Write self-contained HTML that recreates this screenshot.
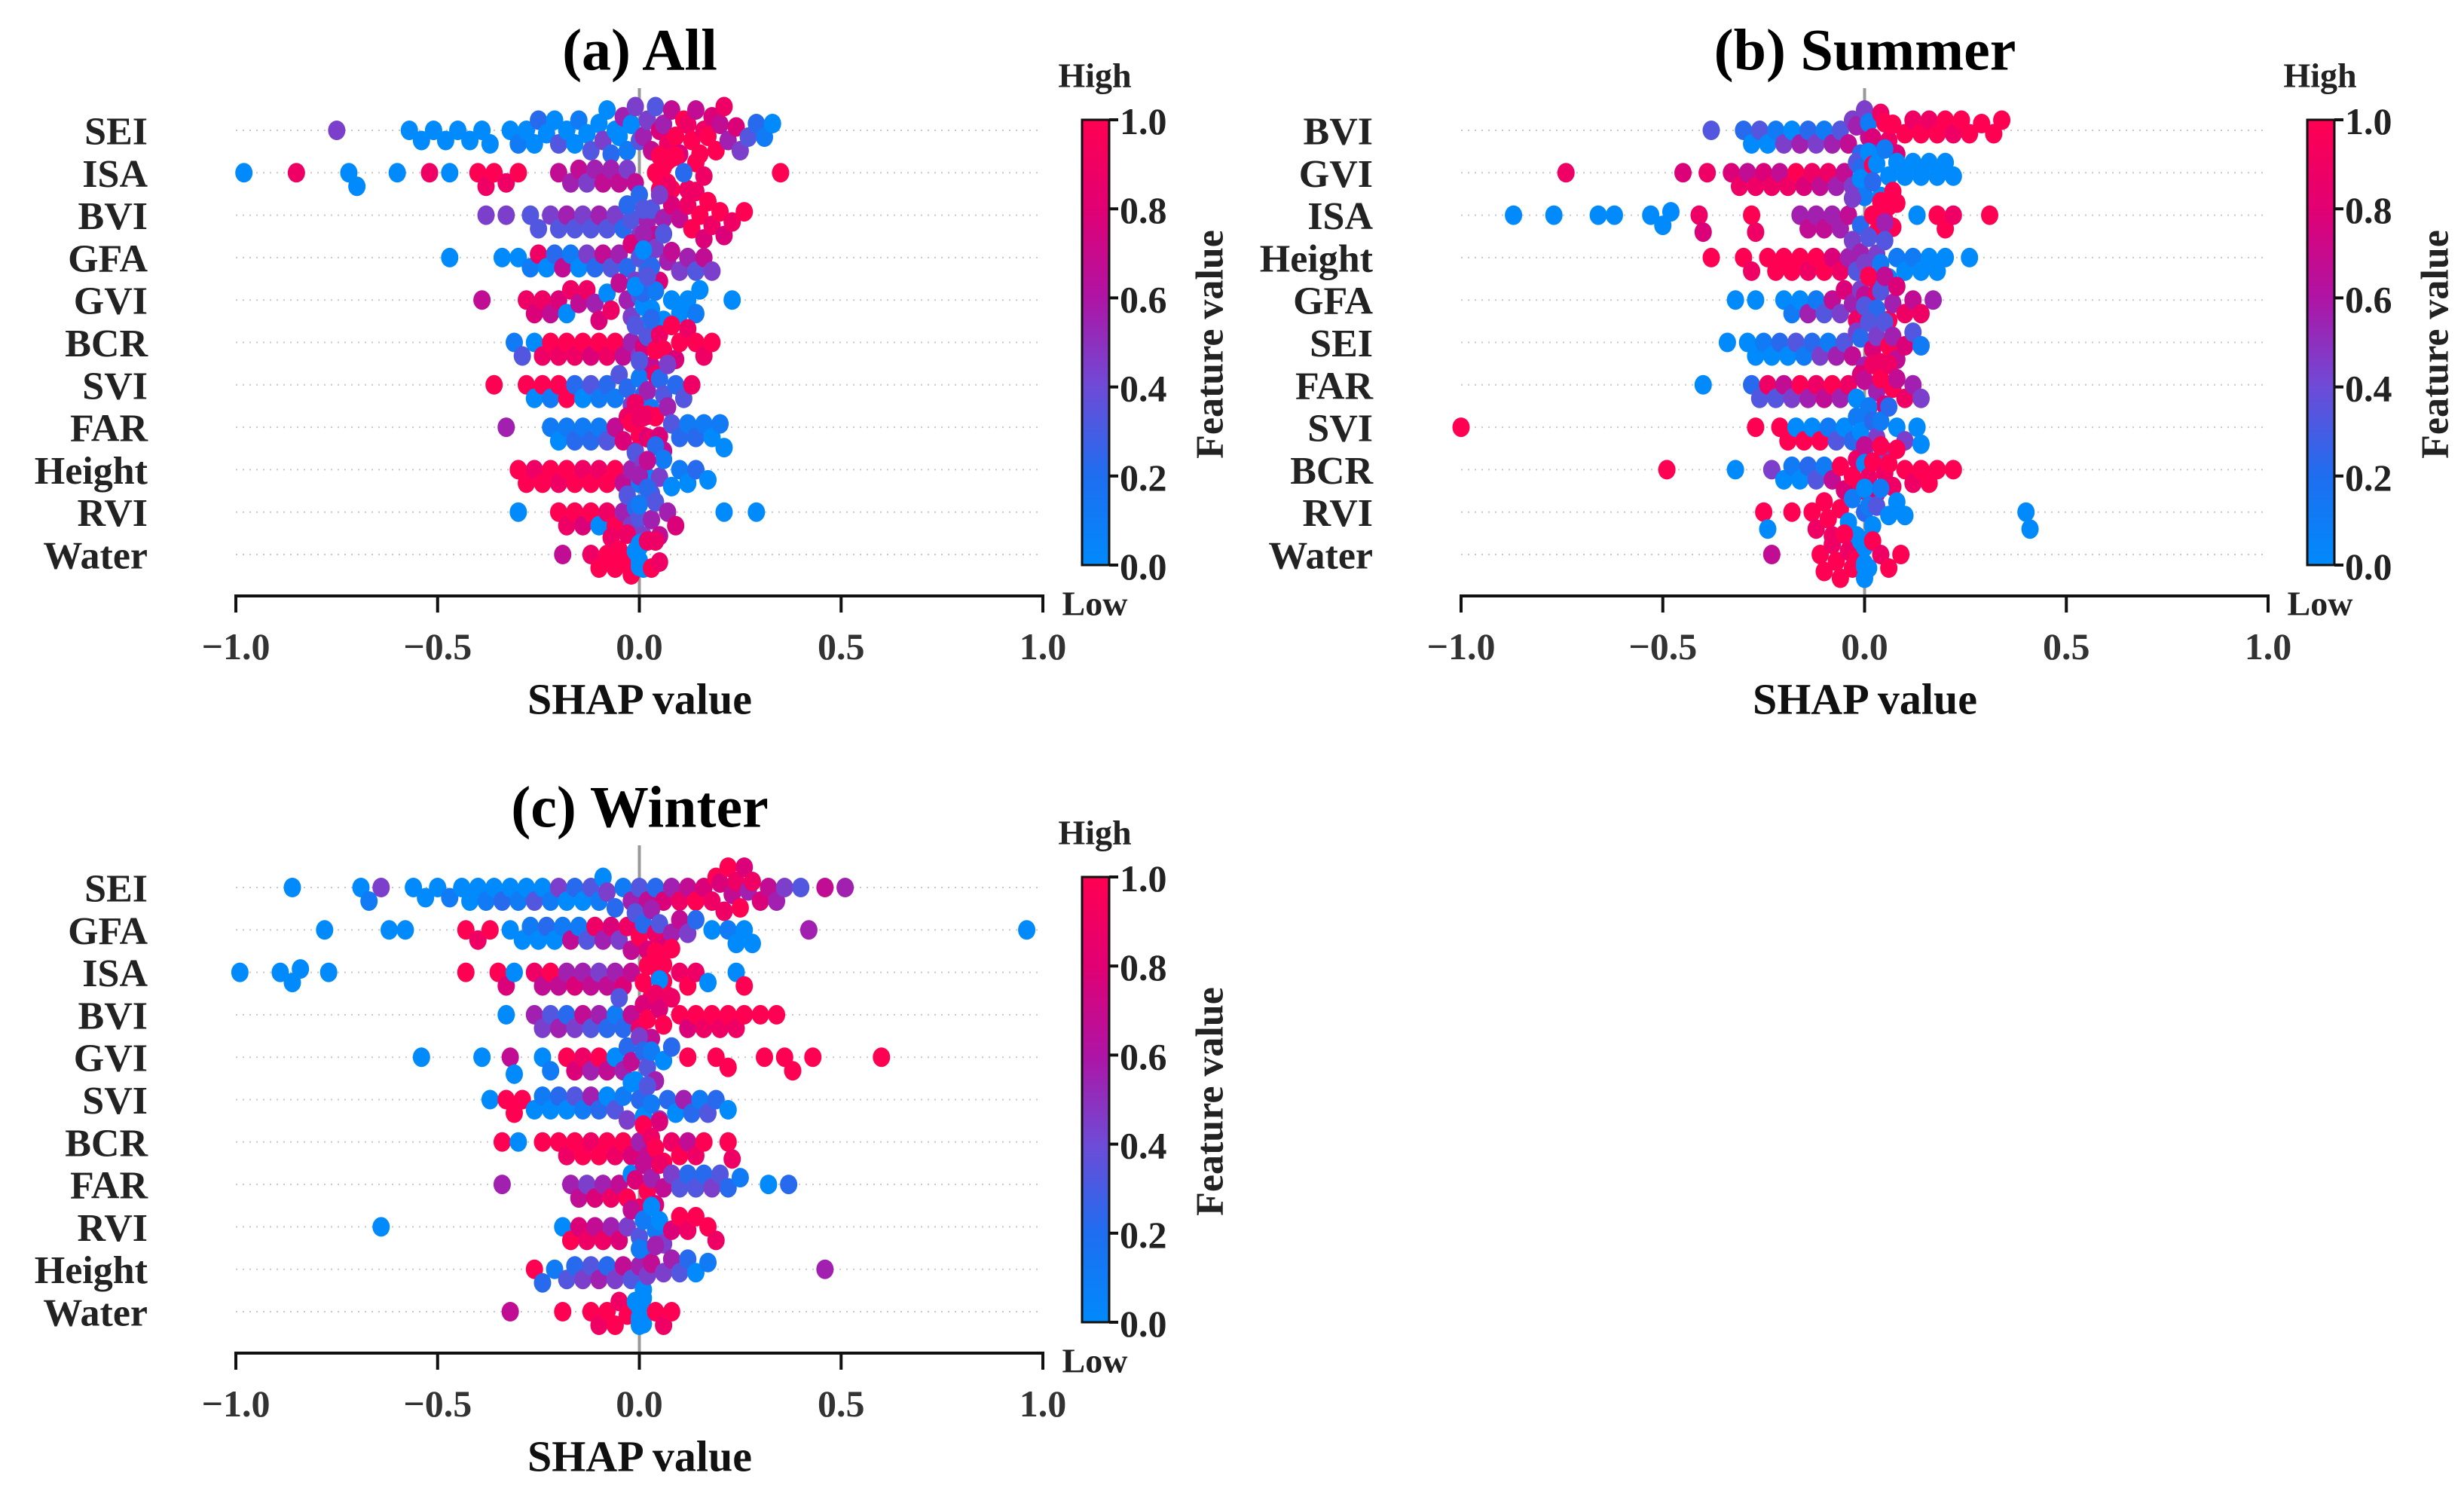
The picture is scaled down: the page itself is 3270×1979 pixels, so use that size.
<!DOCTYPE html>
<html><head><meta charset="utf-8"><style>
html,body{margin:0;padding:0;background:#fff;}
svg{display:block;font-family:"Liberation Serif",serif;font-weight:bold;}
</style></head><body>
<svg id="chart" width="3270" height="1979" viewBox="0 0 3270 1979" xmlns="http://www.w3.org/2000/svg">
<defs>
<linearGradient id="cbar" x1="0" y1="1" x2="0" y2="0">
<stop offset="0" stop-color="rgb(0,138,251)"/><stop offset="0.2" stop-color="rgb(30,110,240)"/><stop offset="0.4" stop-color="rgb(110,75,215)"/><stop offset="0.6" stop-color="rgb(175,20,165)"/><stop offset="0.8" stop-color="rgb(225,0,115)"/><stop offset="1" stop-color="rgb(255,0,82)"/>
</linearGradient>
</defs>
</svg>
<script>
const xTicks = [-1.0, -0.5, 0.0, 0.5, 1.0];
const xTickLabels = ["\u22121.0", "\u22120.5", "0.0", "0.5", "1.0"];
const cbarTicks = [0.0, 0.2, 0.4, 0.6, 0.8, 1.0];
const cbarTickLabels = ["0.0", "0.2", "0.4", "0.6", "0.8", "1.0"];
const titles = ["(a) All", "(b) Summer", "(c) Winter"];

const featuresA = ["SEI","ISA","BVI","GFA","GVI","BCR","SVI","FAR","Height","RVI","Water"];
const pointsA = [
"-75:4 -57:0 -54:0 -51:0 -48:0 -45:0 -42:0 -39:0 -37:0 -32:0 -30:1 -28:0 -26:0 -25:2 -23:0 -21:0 -20:3 -18:0 -16:0 -15:1 -13:0 -12:3 -10:0 -9:4 -8:0 -7:2 -6:0 -5:0 -4:5 -3:1 -2:0 -1:4 0:3 1:5 2:4 3:6 4:3 5:7 6:5 7:8 8:6 9:9 10:7 11:9 12:8 13:9 14:6 15:9 16:8 17:9 18:7 19:9 20:6 21:8 22:5 24:7 25:4 27:3 29:2 31:1 33:0",
"-98:0 -85:8 -72:0 -70:0 -60:0 -52:8 -47:0 -40:9 -38:8 -36:9 -33:8 -30:9 -20:6 -17:5 -15:6 -13:4 -11:5 -9:6 -7:5 -5:6 -3:4 -1:6 4:9 5:9 5:9 6:9 6:9 7:9 7:9 8:9 8:9 9:9 6:9 5:9 7:8 12:8 14:9 16:8 11:2 35:9",
"-38:4 -33:4 -27:3 -25:3 -22:4 -20:3 -18:5 -16:3 -14:4 -12:3 -10:5 -8:3 -6:4 -4:2 -2:3 0:4 0:2 2:5 3:3 4:6 6:5 8:7 10:6 12:8 13:9 14:8 15:9 16:7 17:9 18:8 20:9 21:7 23:8 26:9 -3:2 1:3 5:4",
"-47:0 -34:0 -30:0 -27:1 -25:8 -23:0 -21:2 -19:6 -17:1 -15:0 -13:4 -11:2 -9:6 -7:3 -5:5 -3:2 -2:7 -1:4 0:3 1:5 2:2 3:6 4:4 5:7 6:3 7:5 8:6 10:4 12:5 14:3 16:6 18:4 1:0 3:2",
"-39:6 -28:8 -26:7 -24:8 -22:6 -20:7 -18:0 -17:8 -15:6 -13:8 -11:5 -10:7 -8:0 -7:8 -5:6 -3:5 -2:4 0:3 1:0 2:0 1:2 3:0 4:1 6:0 8:0 10:0 12:0 14:1 15:0 23:0 -1:0 2:3",
"-31:1 -29:3 -26:0 -24:8 -22:9 -20:8 -18:9 -16:8 -14:9 -12:7 -10:9 -8:8 -6:9 -4:6 -2:5 0:4 1:7 2:3 3:6 4:9 5:8 6:9 8:9 9:7 10:9 12:8 14:9 16:8 18:9 -1:3 3:2",
"-36:9 -28:9 -26:0 -24:9 -22:1 -20:9 -18:9 -16:2 -14:0 -12:3 -10:1 -8:2 -6:1 -5:3 -3:2 -2:4 0:1 0:3 1:2 2:5 3:1 4:8 5:2 6:3 7:4 9:2 11:3 13:8",
"-33:5 -22:1 -20:0 -18:1 -16:2 -14:1 -12:2 -10:1 -8:3 -6:6 -4:7 -3:8 -2:9 -1:7 0:9 0:8 1:9 2:7 2:9 3:8 4:9 5:7 6:6 7:5 8:3 10:2 12:1 14:2 16:1 18:0 20:1 21:0 1:8 -1:8",
"-30:9 -28:9 -26:8 -24:9 -22:9 -20:8 -18:9 -16:9 -14:8 -12:9 -10:8 -8:9 -6:9 -4:6 -2:5 -1:3 0:1 1:4 2:0 3:3 4:2 5:4 6:1 8:0 10:1 12:0 14:2 17:0 0:5 2:6",
"-30:0 -20:9 -18:8 -16:9 -14:7 -12:9 -10:0 -8:8 -6:9 -4:5 -3:3 -2:4 -1:2 0:3 0:1 1:4 2:2 3:5 4:3 5:6 7:5 9:7 21:0 29:0",
"-19:6 -12:8 -10:9 -8:9 -7:8 -6:9 -5:9 -4:9 -3:8 -2:9 -1:0 0:0 0:0 0:0 0:0 0:0 1:0 1:0 2:8 3:9 4:8 5:8"
];

const featuresB = ["BVI","GVI","ISA","Height","GFA","SEI","FAR","SVI","BCR","RVI","Water"];
const pointsB = [
"-38:3 -30:2 -28:0 -26:3 -24:0 -22:1 -20:4 -18:0 -16:5 -14:2 -12:4 -10:1 -8:5 -6:3 -4:6 -3:4 -2:5 -1:2 0:4 1:6 1:1 2:7 3:5 4:8 5:9 6:8 7:9 8:7 10:9 12:8 14:9 16:8 18:9 20:9 22:8 24:9 26:9 29:9 32:9 34:9",
"-74:8 -45:7 -39:8 -33:7 -31:8 -29:6 -27:8 -25:7 -23:8 -21:6 -19:8 -17:9 -15:7 -13:8 -11:6 -9:8 -7:5 -5:6 -3:4 -2:3 -1:2 0:1 1:0 2:9 3:0 4:0 5:1 6:0 8:0 10:0 12:0 14:0 16:0 18:0 20:0 22:0 -1:0 2:2",
"-87:0 -77:0 -66:0 -62:0 -53:0 -50:0 -48:0 -41:8 -40:7 -28:9 -27:8 -16:5 -14:6 -12:5 -10:6 -8:5 -6:5 -4:6 -3:4 -1:2 2:9 3:9 4:9 5:9 5:9 6:9 6:9 7:9 7:9 8:9 5:5 13:0 18:9 20:9 22:8 31:9",
"-38:9 -30:9 -28:8 -24:9 -22:9 -20:9 -18:9 -16:9 -14:8 -12:9 -10:9 -8:7 -6:8 -4:5 -3:4 -2:3 -1:5 0:4 1:3 2:2 3:4 4:1 5:3 6:0 8:1 10:0 12:1 14:0 16:0 18:0 20:0 26:0",
"-32:0 -27:0 -20:0 -18:1 -16:0 -14:5 -12:1 -10:3 -8:6 -6:4 -5:7 -3:5 -2:8 -1:4 0:6 1:9 2:5 3:8 4:3 5:6 6:9 7:5 8:7 10:8 12:6 14:8 17:5 0:3 3:2",
"-34:0 -29:0 -27:0 -25:1 -23:0 -21:2 -19:0 -17:3 -15:1 -13:2 -11:4 -9:1 -7:5 -5:3 -3:6 -2:4 -1:2 0:5 1:3 2:7 3:4 4:8 5:3 6:9 7:5 8:6 10:7 12:3 14:1",
"-40:0 -28:2 -26:3 -24:8 -22:3 -20:6 -18:4 -16:9 -14:5 -12:8 -10:6 -8:9 -6:5 -4:8 -2:0 -1:7 0:6 1:9 2:8 3:5 4:9 5:7 6:8 7:9 8:6 10:8 12:5 14:4",
"-100:9 -27:9 -21:9 -19:9 -17:0 -15:9 -13:0 -11:9 -9:1 -7:3 -5:0 -3:2 -2:1 -1:0 0:3 1:1 2:2 3:4 4:1 5:3 6:2 8:0 10:4 13:0 14:0",
"-49:9 -32:0 -23:4 -20:0 -18:1 -16:0 -14:2 -12:3 -10:1 -8:6 -6:9 -5:7 -3:9 -2:8 -1:9 0:6 0:0 1:8 2:9 3:7 4:9 5:8 6:9 7:8 8:9 10:9 12:8 14:9 16:9 18:9 22:9",
"-25:9 -24:0 -18:9 -13:9 -12:8 -10:9 -9:9 -8:8 -6:9 -4:0 -3:1 -2:0 0:2 0:0 1:1 2:0 3:3 4:1 6:0 8:0 10:0 40:0 41:0",
"-23:6 -11:9 -10:9 -8:8 -7:9 -6:9 -5:9 -4:8 -3:9 -2:9 -1:0 0:0 0:0 0:0 0:0 0:0 0:0 1:0 2:9 4:8 6:9 9:9"
];

const featuresC = ["SEI","GFA","ISA","BVI","GVI","SVI","BCR","FAR","RVI","Height","Water"];
const pointsC = [
"-86:0 -69:0 -67:1 -64:4 -56:0 -53:0 -50:0 -47:1 -44:0 -42:0 -40:0 -38:1 -36:0 -34:2 -32:0 -30:1 -28:0 -26:3 -24:0 -22:1 -20:4 -18:0 -16:2 -14:0 -12:3 -10:1 -9:0 -8:4 -6:2 -4:1 -2:5 0:3 2:6 4:2 6:7 8:5 10:8 12:6 14:9 16:7 18:8 19:9 20:7 21:8 22:9 23:6 24:8 25:9 26:7 27:5 28:8 30:7 32:6 34:5 36:4 40:3 46:6 51:5",
"-78:0 -62:0 -58:0 -43:9 -40:8 -37:9 -32:0 -29:0 -27:1 -25:0 -23:2 -21:0 -19:1 -17:6 -15:1 -13:3 -11:8 -9:5 -7:7 -5:4 -3:8 -2:6 -1:3 0:9 1:2 2:7 3:5 4:8 5:3 6:7 8:5 10:6 12:4 14:2 18:0 22:1 24:0 26:0 28:0 42:5 96:0",
"-99:0 -89:0 -86:0 -84:0 -77:0 -43:9 -35:9 -33:7 -31:0 -26:8 -24:6 -22:9 -20:6 -18:5 -16:7 -14:5 -12:6 -10:4 -8:6 -6:5 -4:7 -2:6 1:9 2:9 3:9 4:9 5:9 6:9 6:9 7:9 8:9 5:0 10:8 12:9 14:8 17:0 24:0 26:9",
"-33:0 -26:5 -24:4 -22:3 -20:5 -18:2 -16:4 -14:6 -12:3 -10:5 -8:2 -6:1 -5:3 -4:2 -2:6 0:8 1:7 2:9 3:6 4:8 5:7 6:9 8:8 10:9 12:7 14:9 16:8 18:9 20:8 22:9 24:8 26:9 30:9 34:9",
"-54:0 -39:0 -32:6 -31:0 -24:0 -22:1 -18:9 -16:7 -14:8 -12:5 -10:9 -8:6 -6:0 -4:5 -3:2 -2:6 -1:0 0:4 1:2 2:3 3:1 4:5 6:0 8:2 12:9 19:9 22:9 31:9 36:9 38:9 43:9 60:9",
"-37:0 -33:9 -31:9 -29:9 -26:0 -24:1 -22:0 -20:2 -18:0 -16:3 -14:1 -12:5 -10:2 -8:0 -6:3 -4:1 -3:4 -2:0 0:2 1:0 2:3 3:1 5:4 7:2 9:0 11:5 13:2 15:1 17:3 19:2 22:0",
"-34:9 -30:0 -24:9 -20:9 -18:8 -16:9 -14:9 -12:8 -10:9 -8:9 -6:8 -4:9 -2:7 0:5 1:9 2:6 3:8 4:9 5:7 6:9 8:8 10:9 12:6 14:8 16:9 22:9 23:8",
"-34:5 -17:5 -15:6 -13:4 -11:7 -9:5 -7:8 -5:6 -3:9 -2:0 -1:7 0:8 1:6 2:9 3:5 4:7 5:8 6:6 8:4 10:3 12:2 14:3 16:2 18:4 20:3 22:2 25:1 32:0 37:2",
"-64:0 -19:0 -17:9 -15:7 -13:8 -11:6 -9:8 -7:5 -5:7 -3:4 -2:6 0:3 1:1 2:2 3:0 4:1 5:0 6:4 8:7 10:9 12:8 14:9 17:9 19:8",
"-26:9 -24:2 -21:1 -18:3 -16:2 -14:4 -12:3 -10:5 -8:2 -6:4 -4:6 -2:3 0:5 0:1 1:0 2:4 3:6 4:5 6:4 8:5 10:3 12:2 14:0 17:1 46:5",
"-32:6 -19:9 -12:9 -10:8 -8:9 -6:9 -5:8 -3:9 -1:0 0:0 0:0 0:0 0:0 0:0 0:0 1:0 1:0 4:9 6:8 8:9"
];

const NS = "http://www.w3.org/2000/svg";
const svg = document.getElementById("chart");
function mk(tag, attrs, parent) {
  const e = document.createElementNS(NS, tag);
  for (const k in attrs) e.setAttribute(k, attrs[k]);
  (parent || svg).appendChild(e);
  return e;
}
const stops = [[0,[0,138,251]],[0.2,[30,110,240]],[0.4,[110,75,215]],[0.6,[175,20,165]],[0.8,[225,0,115]],[1,[255,0,82]]];
function cmap(t) {
  for (let i = 1; i < stops.length; i++) {
    if (t <= stops[i][0]) {
      const a = stops[i-1], b = stops[i], f = (t - a[0]) / (b[0] - a[0]);
      return "rgb(" + [0,1,2].map(j => Math.round(a[1][j] + (b[1][j]-a[1][j])*f)).join(",") + ")";
    }
  }
  return "rgb(255,0,82)";
}
function parsePts(s) {
  return s.trim().split(/\s+/).map(tok => { const p = tok.split(":"); return {v: +p[0]/100, c: +p[1]/9}; });
}

const panels = [
  {ox: 0, oy: 0, feats: featuresA, pts: pointsA, title: titles[0], key: "all"},
  {ox: 1626, oy: 0, feats: featuresB, pts: pointsB, title: titles[1], key: "summer"},
  {ox: 0, oy: 1005, feats: featuresC, pts: pointsC, title: titles[2], key: "winter"}
];

panels.forEach(P => {
  const g = mk("g", {});
  
  
  const xScale = v => P.ox + 848.5 + v * 535.5;
  const yRow = i => P.oy + 173 + i * 56.3;
  const axisY = P.oy + 791;

  const t = mk("text", {x: P.ox + 849, y: P.oy + 66, "text-anchor": "middle", "dominant-baseline": "central", "font-size": 78, fill: "#000"}, g);
  t.textContent = P.title;
  
  

  P.feats.forEach((f, i) => {
    const gl = mk("line", {x1: xScale(-1), x2: xScale(1), y1: yRow(i), y2: yRow(i), stroke: "#c8c8c8", "stroke-width": 2, "stroke-dasharray": "2,7"}, g);
    
    
    const lb = mk("text", {x: P.ox + 196, y: yRow(i) + 2, "text-anchor": "end", "dominant-baseline": "central", "font-size": 52, fill: "#222"}, g);
    lb.textContent = f;
    
    
  });

  const zl = mk("line", {x1: xScale(0), x2: xScale(0), y1: P.oy + 117, y2: axisY, stroke: "#999", "stroke-width": 4}, g);
  
  

  const r = 11.5;
  P.pts.forEach((s, i) => {
    const pts = parsePts(s);
    const order = pts.map((p, k) => k).sort((a, b) => pts[a].v - pts[b].v);
    const placed = [];
    const pos = new Array(pts.length);
    const minD = 1.75 * r;
    order.forEach(k => {
      const x = xScale(pts[k].v);
      let chosen = 0, found = false;
      for (let step = 0; step <= 7 && !found; step++) {
        const cands = step === 0 ? [0] : [step*4.5, -step*4.5];
        for (const dy of cands) {
          let ok = true;
          for (const q of placed) {
            const dx = q.x - x, dd = q.dy - dy;
            if (dx*dx + dd*dd < minD*minD) { ok = false; break; }
          }
          if (ok) { chosen = dy; found = true; break; }
        }
      }
      if (!found) chosen = ((placed.length % 2) ? 1 : -1) * Math.min(28, placed.filter(q => Math.abs(q.x - x) < 2*r).length * 2);
      placed.push({x: x, dy: chosen});
      pos[k] = {x: x, dy: chosen};
    });
    pts.forEach((p, k) => {
      const c = mk("ellipse", {cx: pos[k].x, cy: yRow(i) + pos[k].dy, rx: r, ry: r + 1.5, fill: cmap(p.c)}, g);
      
      
    });
  });

  const ax = mk("line", {x1: xScale(-1) - 2, x2: xScale(1) + 2, y1: axisY, y2: axisY, stroke: "#111", "stroke-width": 4}, g);
  
  
  xTicks.forEach((v, j) => {
    const tk = mk("line", {x1: xScale(v), x2: xScale(v), y1: axisY, y2: axisY + 22, stroke: "#111", "stroke-width": 4}, g);
    
    
    const tl = mk("text", {x: xScale(v), y: P.oy + 858, "text-anchor": "middle", "dominant-baseline": "central", "font-size": 50, fill: "#333"}, g);
    tl.textContent = xTickLabels[j];
    
    
  });
  const xt = mk("text", {x: P.ox + 849, y: P.oy + 928, "text-anchor": "middle", "dominant-baseline": "central", "font-size": 58, fill: "#111"}, g);
  xt.textContent = "SHAP value";
  
  

  const cx0 = P.ox + 1436, cw = 36, cyTop = P.oy + 159, cyBot = P.oy + 750;
  const cb = mk("rect", {x: cx0, y: cyTop, width: cw, height: cyBot - cyTop, fill: "url(#cbar)", stroke: "#111", "stroke-width": 3}, g);
  
  
  cbarTicks.forEach((v, j) => {
    const y = cyBot - v * (cyBot - cyTop);
    const tk = mk("line", {x1: cx0 + cw, x2: cx0 + cw + 12, y1: y, y2: y, stroke: "#111", "stroke-width": 4}, g);
    
    
    const tl = mk("text", {x: cx0 + cw + 14, y: y + 2, "dominant-baseline": "central", "font-size": 50, fill: "#222"}, g);
    tl.textContent = cbarTickLabels[j];
    
    
  });
  const hi = mk("text", {x: P.ox + 1453, y: P.oy + 100, "text-anchor": "middle", "dominant-baseline": "central", "font-size": 46, fill: "#222"}, g);
  hi.textContent = "High";
  
  
  const lo = mk("text", {x: P.ox + 1453, y: P.oy + 801, "text-anchor": "middle", "dominant-baseline": "central", "font-size": 46, fill: "#222"}, g);
  lo.textContent = "Low";
  
  
  const fx = P.ox + 1606, fy = P.oy + 457;
  const fv = mk("text", {x: fx, y: fy, "text-anchor": "middle", "dominant-baseline": "central", "font-size": 52, fill: "#222", transform: "rotate(-90 " + fx + " " + fy + ")"}, g);
  fv.textContent = "Feature value";
  
  
});
</script>
</body></html>
